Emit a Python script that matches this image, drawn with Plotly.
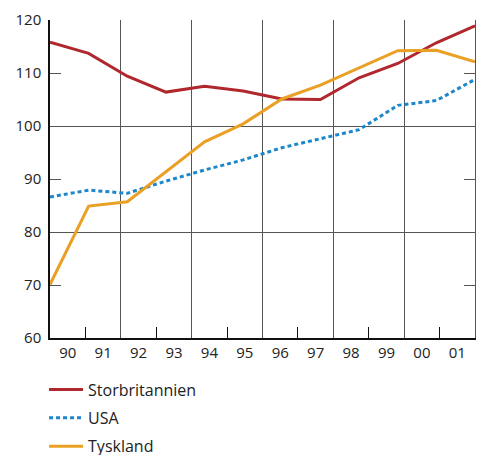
import plotly.graph_objects as go

# Index values per year, 1990-2001
years = ["90", "91", "92", "93", "94", "95", "96", "97", "98", "99", "00", "01"]
storbritannien = [115.8, 113.7, 109.4, 106.4, 107.5, 106.6, 105.1, 105.0, 109.1, 111.8, 115.7, 118.9]
usa = [86.6, 87.9, 87.3, 89.6, 91.7, 93.6, 95.9, 97.6, 99.3, 103.9, 104.8, 108.8]
tyskland = [70.1, 84.9, 85.7, 91.3, 97.0, 100.4, 105.1, 107.7, 110.9, 114.2, 114.3, 112.1]

y_ticks = [60, 70, 80, 90, 100, 110, 120]

n = len(years)
# year labels sit in bands of width 1; the series span the full axis
band_pos = [i + 0.5 for i in range(n)]
point_pos = [i * n / (n - 1) for i in range(n)]

FONT = "Open Sans"
TEXT = "#222222"
GRID = "#555555"

fig = go.Figure()
fig.add_trace(go.Scatter(x=point_pos, y=storbritannien, name="Storbritannien", mode="lines",
                         line=dict(color="#B0282E", width=3), legendgroup="a"))
fig.add_trace(go.Scatter(x=point_pos, y=usa, name="USA", mode="lines",
                         line=dict(color="#1B86C9", width=3, dash="4px,3px"), legendgroup="b"))
fig.add_trace(go.Scatter(x=point_pos, y=tyskland, name="Tyskland", mode="lines",
                         line=dict(color="#E9A025", width=3), legendgroup="c"))
# invisible traces that carry the extra tick axes
fig.add_trace(go.Scatter(x=[0], y=[60], xaxis="x2", yaxis="y2", mode="none",
                         showlegend=False, hoverinfo="skip"))
fig.add_trace(go.Scatter(x=[0], y=[60], xaxis="x", yaxis="y3", mode="none",
                         showlegend=False, hoverinfo="skip"))

fig.update_layout(
    width=477, height=455,
    margin=dict(l=50, r=2, t=20, b=117, autoexpand=False),
    paper_bgcolor="white", plot_bgcolor="white",
    font=dict(family=FONT, size=15, color=TEXT),
    showlegend=True,
    legend=dict(x=-0.014, y=-0.109, xanchor="left", yanchor="top",
                orientation="v", tracegroupgap=4.5, itemwidth=34,
                font=dict(family=FONT, size=16, color=TEXT),
                bgcolor="rgba(0,0,0,0)"),
    xaxis=dict(
        range=[0, n], tickvals=band_pos, ticktext=years, ticks="",
        showgrid=False, zeroline=False,
        showline=True, linecolor="#111111", linewidth=1.5,
        minor=dict(tickvals=list(range(0, n + 1, 2)), showgrid=True,
                   gridcolor=GRID, gridwidth=1.3, ticks=""),
        tickfont=dict(size=15), fixedrange=True,
    ),
    xaxis2=dict(
        range=[0, n], overlaying="x", side="bottom", anchor="y",
        tickvals=list(range(1, n, 2)), ticks="inside", ticklen=11,
        tickcolor="#111111", tickwidth=1.3, showticklabels=False,
        showgrid=False, zeroline=False, showline=False,
    ),
    yaxis=dict(
        range=[60, 120], tickvals=y_ticks, ticks="", showgrid=False,
        zeroline=False, showline=True, linecolor="#111111", linewidth=1.5,
        minor=dict(tickvals=[80, 100, 120], showgrid=True, gridcolor=GRID,
                   gridwidth=1.3, ticks=""),
        tickfont=dict(size=15), ticklabelstandoff=4,
    ),
    yaxis2=dict(
        range=[60, 120], overlaying="y", side="left", anchor="x",
        tickvals=[70, 90, 110], ticks="inside", ticklen=11,
        tickcolor=GRID, tickwidth=1.3, showticklabels=False,
        showgrid=False, zeroline=False, showline=False,
    ),
    yaxis3=dict(
        range=[60, 120], overlaying="y", side="right", anchor="x",
        tickvals=[70, 90, 110], ticks="inside", ticklen=11,
        tickcolor=GRID, tickwidth=1.3, showticklabels=False,
        showgrid=False, zeroline=False,
        showline=True, linecolor=GRID, linewidth=1.3,
    ),
)

fig.write_html("out.html")
